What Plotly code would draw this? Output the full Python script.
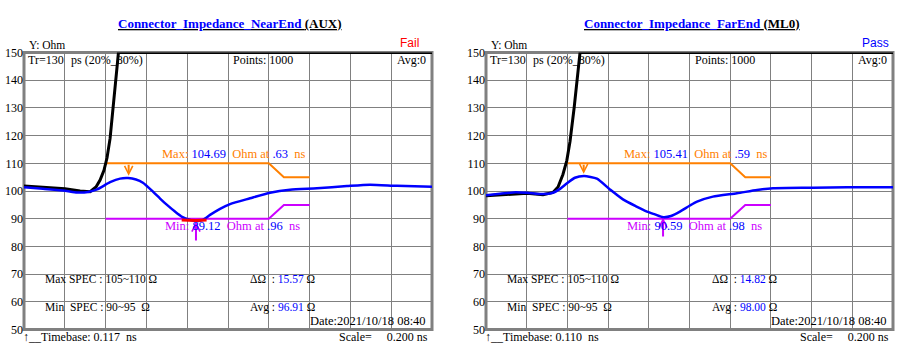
import plotly.graph_objects as go

# ---------------- data ----------------
titles = ["Connector_Impedance_NearEnd ", "Connector_Impedance_FarEnd "]
title_tags = ["(AUX)", "(ML0)"]
status = ["Fail", "Pass"]
status_colors = ["red", "blue"]
timebase = [0.117, 0.110]          # ns, left edge of each plot
scale_ns = 0.200                   # ns per division
rise_time = "Tr=130"
points = 1000

# TDR impedance (blue) traces
left_t = [0.117, 0.210, 0.318, 0.377, 0.431, 0.475, 0.539, 0.588, 0.627, 0.666, 0.700,
          0.749, 0.784, 0.818, 0.857, 0.892, 0.931, 0.960, 0.994, 1.029, 1.078, 1.127,
          1.225, 1.323, 1.421, 1.553, 1.700, 1.813, 1.945, 2.117]
left_z = [101.4, 100.8, 100.1, 99.5, 99.7, 100.6, 103.2, 104.5, 104.69, 104.2, 103.0,
          99.8, 97.3, 95.0, 92.6, 90.7, 89.6, 89.12, 89.6, 91.4, 93.6, 95.3,
          97.4, 99.4, 100.5, 101.0, 101.8, 102.3, 101.9, 101.6]

right_t = [0.110, 0.179, 0.257, 0.312, 0.390, 0.439, 0.474, 0.508, 0.547, 0.592, 0.655,
           0.719, 0.783, 0.847, 0.901, 0.940, 0.980, 1.019, 1.063, 1.112, 1.147, 1.225,
           1.343, 1.442, 1.520, 1.717, 1.884, 2.110]
right_z = [98.5, 99.0, 99.6, 99.4, 98.9, 99.4, 100.8, 102.8, 104.8, 105.41, 104.5,
           100.6, 97.0, 94.5, 92.6, 91.6, 90.59, 91.0, 92.6, 94.8, 96.2, 98.0,
           99.2, 100.4, 101.0, 101.2, 101.4, 101.4]

# raw step response (black), clipped at the top of the screen
left_black_t = [0.117, 0.220, 0.318, 0.392, 0.441, 0.470, 0.490, 0.509, 0.524, 0.539,
                0.553, 0.563, 0.573, 0.580, 2.117]
left_black_z = [101.8, 101.4, 100.8, 100.0, 99.8, 101.5, 104.0, 107.5, 112.0, 119.0,
                130.0, 139.0, 147.0, 150.0, 150.0]
right_black_t = [0.110, 0.312, 0.390, 0.439, 0.464, 0.488, 0.507, 0.523, 0.543, 0.557,
                 0.572, 2.110]
right_black_z = [98.3, 99.2, 98.7, 99.5, 101.5, 106.0, 111.0, 118.0, 130.0, 140.0,
                 150.0, 150.0]

# part of the left trace below the min spec (red)
fail_t = [0.890, 0.960, 1.012]
fail_z = [89.6, 89.4, 89.6]

# spec masks (time offsets from timebase, ns)
spec_offsets = [0.4, 1.2, 1.274, 1.4]
max_spec = [110, 110, 105, 105]
min_spec = [90, 90, 95, 95]

max_val = [104.69, 105.41]
max_time = [0.63, 0.59]
min_val = [89.12, 90.59]
min_time = [0.96, 0.98]
delta = [15.57, 14.82]
avg = [96.91, 98.00]
date = "2021/10/18 08:40"

y_ticks = [50, 60, 70, 80, 90, 100, 110, 120, 130, 140, 150]

# ---------------- figure ----------------
W, H = 900, 355
ORANGE = "#FF8000"
MAGENTA = "#CC00FF"
GRID = "#808080"
SERIF = "Liberation Serif"

def px(x):
    return x / W

# vertical placement helper (target pixel row -> paper fraction)
def py(y):
    yy = (y - 6.7) / 0.962
    return 1 - yy / H

frames = [(24, 432), (486, 893)]
top_px, bot_px = 52.3, 329.8

fig = go.Figure()
traces_t = [left_t, right_t]
traces_z = [left_z, right_z]
black_t = [left_black_t, right_black_t]
black_z = [left_black_z, right_black_z]

annotations = []
shapes = []
layout_axes = {}

for i in range(2):
    xa = "x" if i == 0 else "x2"
    ya = "y" if i == 0 else "y2"
    tb = timebase[i]
    spec_t = [tb + o for o in spec_offsets]
    fig.add_trace(go.Scatter(x=spec_t, y=max_spec, mode="lines", line=dict(color=ORANGE, width=2),
                             xaxis=xa, yaxis=ya, hoverinfo="skip"))
    fig.add_trace(go.Scatter(x=spec_t, y=min_spec, mode="lines", line=dict(color=MAGENTA, width=2),
                             xaxis=xa, yaxis=ya, hoverinfo="skip"))
    fig.add_trace(go.Scatter(x=black_t[i], y=black_z[i], mode="lines",
                             line=dict(color="black", width=3),
                             xaxis=xa, yaxis=ya))
    fig.add_trace(go.Scatter(x=traces_t[i], y=traces_z[i], mode="lines",
                             line=dict(color="#0000FF", width=2.5, shape="spline", smoothing=0.6),
                             xaxis=xa, yaxis=ya))
    if i == 0:
        fig.add_trace(go.Scatter(x=fail_t, y=fail_z, mode="lines", line=dict(color="red", width=3),
                                 xaxis=xa, yaxis=ya))

    l, r = frames[i]
    dom = [px(l), px(r)]
    layout_axes["xaxis" if i == 0 else "xaxis2"] = dict(
        domain=dom, range=[tb, tb + 10 * scale_ns], tick0=tb, dtick=scale_ns,
        showticklabels=False, showgrid=True, gridcolor=GRID, gridwidth=1,
        zeroline=False, showline=False, ticks="", anchor=ya)
    layout_axes["yaxis" if i == 0 else "yaxis2"] = dict(
        domain=[py(bot_px), py(top_px)], range=[50, 150], tickvals=y_ticks,
        showgrid=True, gridcolor=GRID, gridwidth=1, zeroline=False, showline=False,
        ticks="", tickfont=dict(family=SERIF, size=12, color="black"), anchor=xa)

    shapes.append(dict(type="rect", xref="paper", yref="paper", x0=px(l), x1=px(r),
                       y0=py(bot_px), y1=py(top_px),
                       line=dict(color=GRID, width=3), layer="below"))

    # arrows at max and min
    annotations.append(dict(x=max_time[i], y=max_val[i] + 0.8, ax=max_time[i], ay=max_spec[0],
                            xref=xa, yref=ya, axref=xa, ayref=ya, text="", showarrow=True,
                            arrowhead=5, arrowsize=0.8, arrowwidth=2, arrowcolor=ORANGE))
    annotations.append(dict(x=min_time[i], y=min_val[i] - 0.2, ax=min_time[i], ay=min_val[i] - 7.5,
                            xref=xa, yref=ya, axref=xa, ayref=ya, text="", showarrow=True,
                            arrowhead=5, arrowsize=0.8, arrowwidth=2, arrowcolor=MAGENTA))

    def txt(x, y, s, color="black", size=12, xanchor="left", family=SERIF):
        annotations.append(dict(x=px(x), y=py(y), xref="paper", yref="paper", text=s,
                                showarrow=False, xanchor=xanchor, yanchor="middle",
                                font=dict(family=family, size=size, color=color)))

    cx = (l + r) / 2
    txt(cx + 2, 23, f"<b><u><span style='color:#0000FF'>{titles[i]}</span>{title_tags[i]}</u></b>",
        size=13, xanchor="center")
    txt(l + 3, 45, "Y: Ohm", size=11.5)
    txt(l + 374, 42.5, status[i], color=status_colors[i], size=12, family="Liberation Sans")
    txt(l + 2, 60, rise_time, size=12)
    txt(l + 45, 60, "ps (20%_80%)", size=12)
    txt(l + 207, 60, f"Points: {points}", size=12)
    txt(r - 4, 60, "Avg:0", size=12, xanchor="right")
    mv = f"{max_val[i]:.2f}"
    mt = f"{max_time[i]:.2f}".lstrip("0")
    txt(l + 136, 154, f"Max: <span style='color:#0000FF'>{mv}</span>&nbsp;&nbsp;Ohm at "
        f"<span style='color:#0000FF'>{mt}</span>&nbsp;&nbsp;ns", color=ORANGE, size=12.5)
    nv = f"{min_val[i]:.2f}"
    nt = f"{min_time[i]:.2f}".lstrip("0")
    txt(l + 139, 226.5, f"Min: <span style='color:#0000FF'>{nv}</span>&nbsp;&nbsp;Ohm at "
        f"<span style='color:#0000FF'>{nt}</span>&nbsp;&nbsp;ns", color=MAGENTA, size=12.5)
    txt(l + 19, 279.5, f"Max SPEC : {max_spec[2]}~{max_spec[0]} Ω", size=11.5)
    txt(l + 19, 307.5, f"Min&nbsp;&nbsp;SPEC : {min_spec[0]}~{min_spec[2]}&nbsp;&nbsp;Ω", size=11.5)
    txt(l + 224, 279.5, f"ΔΩ&nbsp;&nbsp;: <span style='color:#0000FF'>{delta[i]:.2f}</span> Ω", size=11.5)
    txt(l + 224, 307.5, f"Avg : <span style='color:#0000FF'>{avg[i]:.2f}</span> Ω", size=11.5)
    txt(r - 4, 321.5, f"Date:{date}", size=12.5, xanchor="right")
    txt(l - 3, 337, "↑__", size=12)
    txt(l + 15, 337, f"Timebase: {tb:.3f}&nbsp;&nbsp;ns", size=12)
    txt(r - 2, 337, f"Scale=&nbsp;&nbsp;&nbsp;&nbsp;&nbsp;{scale_ns:.3f} ns", size=12, xanchor="right")

fig.update_layout(
    width=W, height=H, autosize=False,
    margin=dict(l=0, r=0, t=0, b=0),
    paper_bgcolor="white", plot_bgcolor="white",
    showlegend=False,
    annotations=annotations, shapes=shapes,
    **layout_axes,
)

post = (
    "document.documentElement.style.margin='0';"
    "document.documentElement.style.padding='0';"
    "document.documentElement.style.overflow='hidden';"
    "document.body.style.margin='0';document.body.style.padding='0';"
    "document.body.style.overflow='hidden';"
    "var g=document.getElementById('{plot_id}');"
    "g.style.position='absolute';g.style.left='0px';g.style.top='0px';"
)
fig.write_html("out.html", config={"responsive": False, "displayModeBar": False},
               post_script=post)
